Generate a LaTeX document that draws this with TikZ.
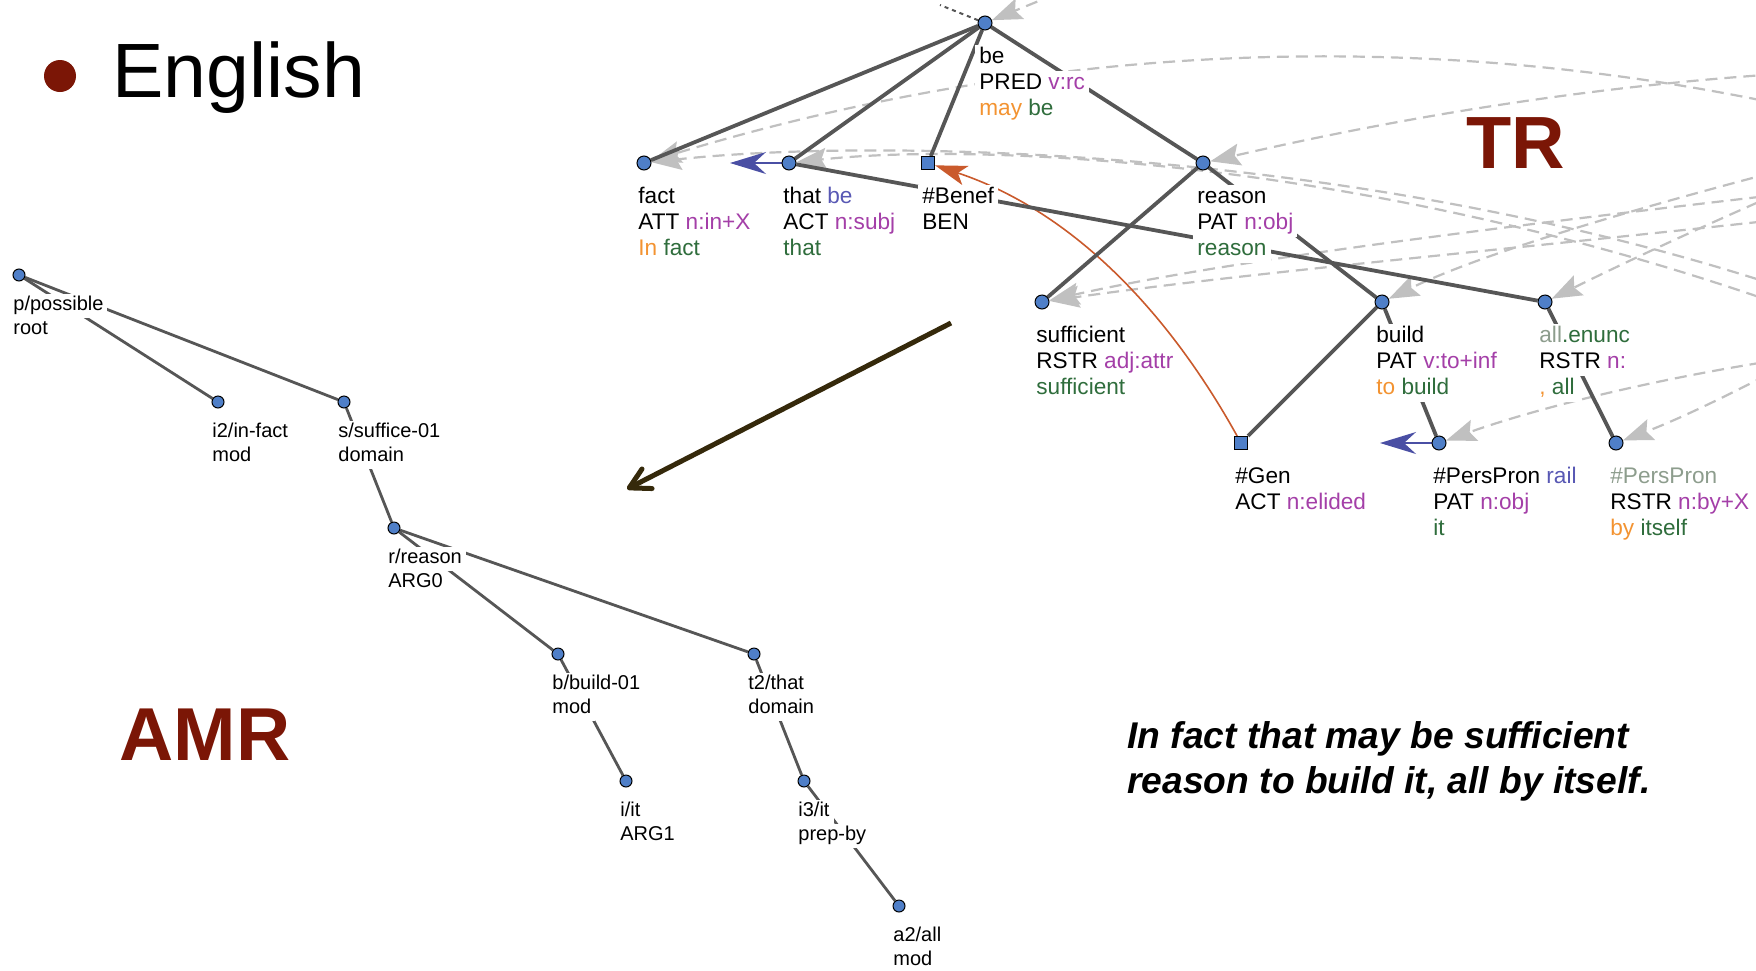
\documentclass[tikz,border=0pt]{standalone}
\usepackage{fontspec}
\setmainfont{Liberation Sans}
\usetikzlibrary{positioning,arrows.meta,backgrounds}

\definecolor{edgegray}{HTML}{565656}
\definecolor{dashgray}{HTML}{C0C0C0}
\definecolor{nodeblue}{HTML}{4F7FC8}
\definecolor{titlered}{HTML}{7B1606}
\definecolor{fpurple}{HTML}{A43FA8}
\definecolor{fgreen}{HTML}{2F6D3C}
\definecolor{forange}{HTML}{F39331}
\definecolor{fblue}{HTML}{5858B4}
\definecolor{fgray}{HTML}{8D9D8D}
\definecolor{corblue}{HTML}{4A4FA4}
\definecolor{corred}{HTML}{CA5A2C}
\definecolor{bigarrow}{HTML}{35290B}

% every label line sits on a white strip, so edges pass behind it
\setlength{\fboxsep}{0pt}
\newcommand{\wl}[1]{\colorbox{white}{\kern2pt\strut#1\kern2pt}}
\newcommand{\tfunc}[1]{\textcolor{fpurple}{#1}}
\newcommand{\tlemma}[1]{\textcolor{fgreen}{#1}}
\newcommand{\taux}[1]{\textcolor{forange}{#1}}

\tikzset{
    tnode/.style={circle, draw=black, fill=nodeblue, line width=0.5pt, minimum size=7pt, inner sep=0pt},
    tsquare/.style={rectangle, draw=black, fill=nodeblue, line width=0.5pt, minimum size=6.5pt, inner sep=0pt},
    anode/.style={circle, draw=black, fill=nodeblue, line width=0.5pt, minimum size=6pt, inner sep=0pt},
    tlabel/.style={inner sep=0pt, align=left, font=\fontsize{11.3}{13}\selectfont},
    alabel/.style={inner sep=0pt, align=left, font=\fontsize{10}{12}\selectfont},
    tedge/.style={edgegray, line width=1.9pt},
    aedge/.style={edgegray, line width=1.4pt},
    coref/.style={dashgray, line width=1.1pt, dash pattern=on 6pt off 3.5pt, -{Stealth[length=15pt, width=11pt, inset=2.5pt]}},
}

\begin{document}
\begin{tikzpicture}[x=0.5pt, y=-0.5pt]
    \useasboundingbox (0,0) rectangle (1756,970);

    % headings
    \node[circle, fill=titlered, minimum size=16pt, inner sep=0pt] (bullet) at (60,76) {};
    \node[anchor=base west, inner sep=0pt, font=\fontsize{38.5}{46}\selectfont] (english) at (112,97) {English};
    \node[anchor=base west, inner sep=0pt, text=titlered, font=\fontsize{37}{44}\selectfont\bfseries] (tr title) at (1466,168) {TR};
    \node[anchor=base west, inner sep=0pt, text=titlered, font=\fontsize{37.5}{45}\selectfont\bfseries] (amr title) at (119,760) {AMR};
    \node[anchor=north west, inner sep=0pt, align=left, font=\fontsize{18.6}{22.5}\selectfont\bfseries\itshape] (sentence) at (1127,717)
        {\strut In fact that may be sufficient\\reason to build it, all by itself.};

    % TR tree
    \node[tnode] (be) at (985,23) {};
    \node[tnode] (fact) at (644,163) {};
    \node[tnode] (that) at (789,163) {};
    \node[tsquare] (benef) at (928,163) {};
    \node[tnode] (reason) at (1203,163) {};
    \node[tnode] (sufficient) at (1042,302) {};
    \node[tnode] (build) at (1382,302) {};
    \node[tnode] (allenunc) at (1545,302) {};
    \node[tsquare] (gen) at (1241,443) {};
    \node[tnode] (rail) at (1439,443) {};
    \node[tnode] (perspron) at (1616,443) {};

    \node[tlabel, below right=10.9pt and -5pt of be.center] (be label)
        {\wl{be}\\\wl{PRED \tfunc{v:rc}}\\\wl{\taux{may} \tlemma{be}}};
    \node[tlabel, below right=10.9pt and -5pt of fact.center] (fact label)
        {\wl{fact}\\\wl{ATT \tfunc{n:in+X}}\\\wl{\taux{In} \tlemma{fact}}};
    \node[tlabel, below right=10.9pt and -5pt of that.center] (that label)
        {\wl{that \textcolor{fblue}{be}}\\\wl{ACT \tfunc{n:subj}}\\\wl{\tlemma{that}}};
    \node[tlabel, below right=10.9pt and -5pt of benef.center] (benef label)
        {\wl{\#Benef}\\\wl{BEN}};
    \node[tlabel, below right=10.9pt and -5pt of reason.center] (reason label)
        {\wl{reason}\\\wl{PAT \tfunc{n:obj}}\\\wl{\tlemma{reason}}};
    \node[tlabel, below right=10.9pt and -5pt of sufficient.center] (sufficient label)
        {\wl{sufficient}\\\wl{RSTR \tfunc{adj:attr}}\\\wl{\tlemma{sufficient}}};
    \node[tlabel, below right=10.9pt and -5pt of build.center] (build label)
        {\wl{build}\\\wl{PAT \tfunc{v:to+inf}}\\\wl{\taux{to} \tlemma{build}}};
    \node[tlabel, below right=10.9pt and -5pt of allenunc.center] (allenunc label)
        {\wl{\textcolor{fgray}{all}\tlemma{.enunc}}\\\wl{RSTR \tfunc{n:}}\\\wl{\taux{,} \tlemma{all}}};
    \node[tlabel, below right=10.9pt and -5pt of gen.center] (gen label)
        {\wl{\#Gen}\\\wl{ACT \tfunc{n:elided}}};
    \node[tlabel, below right=10.9pt and -5pt of rail.center] (rail label)
        {\wl{\#PersPron \textcolor{fblue}{rail}}\\\wl{PAT \tfunc{n:obj}}\\\wl{\tlemma{it}}};
    \node[tlabel, below right=10.9pt and -5pt of perspron.center] (perspron label)
        {\wl{\textcolor{fgray}{\#PersPron}}\\\wl{RSTR \tfunc{n:by+X}}\\\wl{\taux{by} \tlemma{itself}}};

    % AMR tree
    \node[anode] (p) at (19,275) {};
    \node[anode] (i2) at (218,402) {};
    \node[anode] (s) at (344,402) {};
    \node[anode] (r) at (394,528) {};
    \node[anode] (b) at (558,654) {};
    \node[anode] (t2) at (754,654) {};
    \node[anode] (i) at (626,781) {};
    \node[anode] (i3) at (804,781) {};
    \node[anode] (a2) at (899,906) {};

    \node[alabel, below right=9.35pt and -5pt of p.center] (p label) {\wl{p/possible}\\\wl{root}};
    \node[alabel, below right=9.35pt and -5pt of i2.center] (i2 label) {\wl{i2/in-fact}\\\wl{mod}};
    \node[alabel, below right=9.35pt and -5pt of s.center] (s label) {\wl{s/suffice-01}\\\wl{domain}};
    \node[alabel, below right=9.35pt and -5pt of r.center] (r label) {\wl{r/reason}\\\wl{ARG0}};
    \node[alabel, below right=9.35pt and -5pt of b.center] (b label) {\wl{b/build-01}\\\wl{mod}};
    \node[alabel, below right=9.35pt and -5pt of t2.center] (t2 label) {\wl{t2/that}\\\wl{domain}};
    \node[alabel, below right=9.35pt and -5pt of i.center] (i label) {\wl{i/it}\\\wl{ARG1}};
    \node[alabel, below right=9.35pt and -5pt of i3.center] (i3 label) {\wl{i3/it}\\\wl{prep-by}};
    \node[alabel, below right=9.35pt and -5pt of a2.center] (a2 label) {\wl{a2/all}\\\wl{mod}};

    % TR to AMR
    \coordinate (arrow start) at (951,323);
    \coordinate (arrow end) at (627,489);
    \draw[bigarrow, line width=2.5pt, -{Straight Barb[length=10pt, width=11pt, round]}] (arrow start) -- (arrow end);

    \begin{scope}[on background layer]
        \fill[white] (0,0) rectangle (1756,970);
        \clip (0,0) rectangle (1756,970);

        % arcs coming in from the rest of the tree
        \coordinate (far a) at (2000,162);
        \coordinate (far b) at (2600,162);
        \coordinate (far c) at (1900,330);
        \coordinate (far d) at (1900,350);
        \coordinate (far e) at (1950,175);
        \coordinate (far f) at (1950,200);
        \coordinate (far g) at (1900,140);
        \coordinate (far h) at (1880,150);
        \coordinate (far i) at (1950,340);
        \coordinate (far j) at (1850,330);
        \coordinate (far k) at (1090,-20);
        \draw[coref] (far a) .. controls (1550,20) and (1100,25) .. (fact);
        \draw[coref] (far b) .. controls (2250,37) and (1750,37) .. (reason);
        \draw[coref] (far c) .. controls (1450,150) and (900,135) .. (fact);
        \draw[coref] (far d) .. controls (1450,165) and (1000,140) .. (that);
        \draw[coref] (far e) .. controls (1600,215) and (1250,255) .. (sufficient);
        \draw[coref] (far f) .. controls (1620,240) and (1280,268) .. (sufficient);
        \draw[coref] (far g) .. controls (1700,190) and (1500,245) .. (build);
        \draw[coref] (far h) .. controls (1760,200) and (1650,250) .. (allenunc);
        \draw[coref] (far i) .. controls (1750,355) and (1560,400) .. (rail);
        \draw[coref] (far j) .. controls (1770,375) and (1690,415) .. (perspron);
        \draw[coref] (far k) -- (be);

        % link to the parent above
        \coordinate (be up) at (940,5);
        \draw[edgegray, line width=1pt, dash pattern=on 2pt off 2pt] (be) -- (be up);

        % coreference
        \coordinate (that cor) at (730,163);
        \coordinate (rail cor) at (1380,443);
        \draw[corred, line width=0.8pt, -{Stealth[length=16pt, width=10pt, inset=4pt]}] (gen) .. controls (1170,315) and (1075,212) .. (benef);
        \draw[corblue, line width=0.7pt, -{Stealth[length=18pt, width=11pt, inset=6pt]}] (that) -- (that cor);
        \draw[corblue, line width=0.7pt, -{Stealth[length=18pt, width=11pt, inset=6pt]}] (rail) -- (rail cor);

        \foreach \u/\v in {be/fact, be/that, be/benef, be/reason, reason/sufficient, reason/build,
                           that/allenunc, build/gen, build/rail, allenunc/perspron}{
            \draw[tedge] (\u) -- (\v);
        }
        \foreach \u/\v in {p/i2, p/s, s/r, r/b, r/t2, b/i, t2/i3, i3/a2}{
            \draw[aedge] (\u) -- (\v);
        }
    \end{scope}
\end{tikzpicture}
\end{document}
